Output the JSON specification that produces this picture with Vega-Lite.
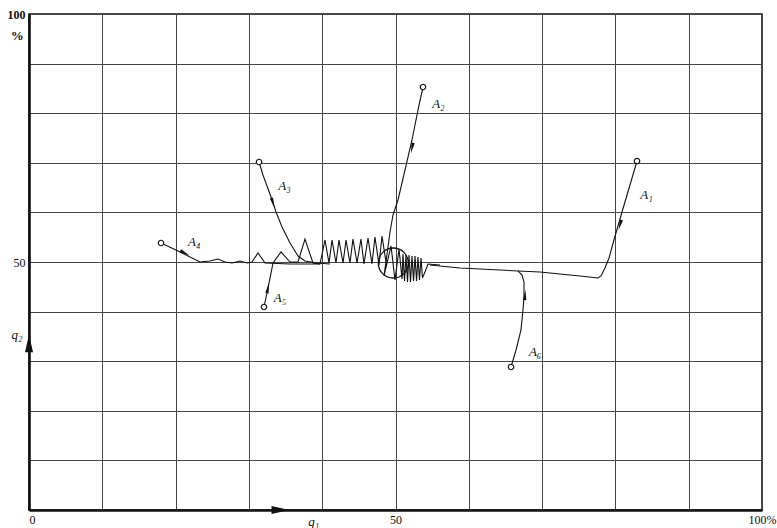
{
  "$schema": "https://vega.github.io/schema/vega-lite/v6.json",
  "width": 733,
  "height": 496,
  "autosize": {"type": "none"},
  "padding": {"left": 29, "top": 14, "right": 15, "bottom": 18},
  "background": "white",
  "config": {
    "view": {"stroke": "#111", "strokeWidth": 1.5},
    "axis": {"labelFont": "Liberation Serif", "labelFontSize": 12, "labelColor": "#111"}
  },
  "datasets": {
    "paths": [
      {"s":"A1","o":0,"x":82.95,"y":70.36},{"s":"A1","o":1,"x":81.99,"y":65.52},{"s":"A1","o":2,"x":80.9,"y":60.08},{"s":"A1","o":3,"x":79.8,"y":54.44},{"s":"A1","o":4,"x":79.13,"y":50.81},{"s":"A1","o":5,"x":78.58,"y":48.79},{"s":"A1","o":6,"x":78.04,"y":47.18},{"s":"A1","o":7,"x":77.63,"y":46.77},{"s":"A1","o":8,"x":75.17,"y":47.18},{"s":"A1","o":9,"x":72.44,"y":47.58},{"s":"A1","o":10,"x":69.71,"y":47.98},{"s":"A1","o":11,"x":66.71,"y":48.19},{"s":"A1","o":12,"x":64.26,"y":48.39},{"s":"A1","o":13,"x":61.53,"y":48.59},{"s":"A1","o":14,"x":58.8,"y":48.79},{"s":"A1","o":15,"x":56.07,"y":49.19},{"s":"A1","o":16,"x":54.71,"y":49.4},
      {"s":"A2","o":0,"x":53.75,"y":85.28},{"s":"A2","o":1,"x":53.07,"y":80.65},{"s":"A2","o":2,"x":52.25,"y":74.6},{"s":"A2","o":3,"x":51.3,"y":68.55},{"s":"A2","o":4,"x":50.34,"y":62.5},{"s":"A2","o":5,"x":49.66,"y":59.48},{"s":"A2","o":6,"x":49.25,"y":56.05},{"s":"A2","o":7,"x":48.98,"y":53.02},{"s":"A2","o":8,"x":48.43,"y":47.18},{"s":"A2","o":9,"x":49.39,"y":53.23},{"s":"A2","o":10,"x":49.93,"y":46.37},{"s":"A2","o":11,"x":50.48,"y":52.62},{"s":"A2","o":12,"x":50.89,"y":46.57},{"s":"A2","o":13,"x":51.02,"y":51.61},{"s":"A2","o":14,"x":51.23,"y":46.17},{"s":"A2","o":15,"x":51.43,"y":51.41},{"s":"A2","o":16,"x":51.64,"y":45.97},{"s":"A2","o":17,"x":51.84,"y":51.41},{"s":"A2","o":18,"x":52.05,"y":45.97},{"s":"A2","o":19,"x":52.25,"y":51.21},{"s":"A2","o":20,"x":52.46,"y":46.17},{"s":"A2","o":21,"x":52.66,"y":51.21},{"s":"A2","o":22,"x":52.87,"y":46.17},{"s":"A2","o":23,"x":53.07,"y":51.01},{"s":"A2","o":24,"x":53.27,"y":46.37},{"s":"A2","o":25,"x":53.48,"y":50.81},{"s":"A2","o":26,"x":53.68,"y":46.77},{"s":"A2","o":27,"x":54.02,"y":47.98},{"s":"A2","o":28,"x":54.43,"y":49.6},{"s":"A2","o":29,"x":56.07,"y":49.4},
      {"s":"A3","o":0,"x":31.38,"y":70.16},{"s":"A3","o":1,"x":31.92,"y":67.54},{"s":"A3","o":2,"x":32.47,"y":65.32},{"s":"A3","o":3,"x":33.02,"y":63.1},{"s":"A3","o":4,"x":33.7,"y":60.08},{"s":"A3","o":5,"x":34.52,"y":57.06},{"s":"A3","o":6,"x":35.61,"y":53.83},{"s":"A3","o":7,"x":36.7,"y":51.21},{"s":"A3","o":8,"x":37.65,"y":50.2},{"s":"A3","o":9,"x":39.29,"y":49.8},{"s":"A3","o":10,"x":41.06,"y":49.6},
      {"s":"A4","o":0,"x":18.01,"y":53.83},{"s":"A4","o":1,"x":20.33,"y":52.22},{"s":"A4","o":2,"x":23.33,"y":50.0},{"s":"A4","o":3,"x":24.69,"y":50.2},{"s":"A4","o":4,"x":25.78,"y":50.6},{"s":"A4","o":5,"x":26.74,"y":50.0},{"s":"A4","o":6,"x":27.69,"y":49.8},{"s":"A4","o":7,"x":28.79,"y":50.2},{"s":"A4","o":8,"x":29.74,"y":49.8},{"s":"A4","o":9,"x":30.42,"y":50.0},{"s":"A4","o":10,"x":31.24,"y":51.81},{"s":"A4","o":11,"x":32.2,"y":49.8},{"s":"A4","o":12,"x":35.61,"y":49.6},{"s":"A4","o":13,"x":39.7,"y":49.6},
      {"s":"A5","o":0,"x":32.06,"y":40.93},{"s":"A5","o":1,"x":32.47,"y":43.75},{"s":"A5","o":2,"x":32.88,"y":46.77},{"s":"A5","o":3,"x":33.29,"y":49.8},{"s":"A5","o":4,"x":34.38,"y":52.02},{"s":"A5","o":5,"x":35.61,"y":50.0},{"s":"A5","o":6,"x":36.7,"y":50.0},{"s":"A5","o":7,"x":37.65,"y":54.64},{"s":"A5","o":8,"x":38.74,"y":49.8},{"s":"A5","o":9,"x":39.7,"y":49.6},{"s":"A5","o":10,"x":40.38,"y":54.44},{"s":"A5","o":11,"x":40.93,"y":49.8},{"s":"A5","o":12,"x":41.34,"y":54.44},{"s":"A5","o":13,"x":41.88,"y":49.8},{"s":"A5","o":14,"x":42.29,"y":54.44},{"s":"A5","o":15,"x":42.84,"y":49.8},{"s":"A5","o":16,"x":43.25,"y":54.44},{"s":"A5","o":17,"x":43.79,"y":49.8},{"s":"A5","o":18,"x":44.2,"y":54.64},{"s":"A5","o":19,"x":44.75,"y":49.8},{"s":"A5","o":20,"x":45.29,"y":54.64},{"s":"A5","o":21,"x":45.7,"y":49.6},{"s":"A5","o":22,"x":46.25,"y":54.84},{"s":"A5","o":23,"x":46.79,"y":49.6},{"s":"A5","o":24,"x":47.2,"y":55.04},{"s":"A5","o":25,"x":47.75,"y":49.4},{"s":"A5","o":26,"x":48.16,"y":55.24},{"s":"A5","o":27,"x":48.7,"y":50.0},
      {"s":"A6","o":0,"x":65.76,"y":28.83},{"s":"A6","o":1,"x":66.44,"y":32.26},{"s":"A6","o":2,"x":67.12,"y":36.29},{"s":"A6","o":3,"x":67.39,"y":40.32},{"s":"A6","o":4,"x":67.53,"y":42.94},{"s":"A6","o":5,"x":67.53,"y":45.97},{"s":"A6","o":6,"x":67.26,"y":47.38},{"s":"A6","o":7,"x":66.71,"y":48.19}
    ],
    "starts": [
      {"s":"A1","x":82.95,"y":70.36},{"s":"A2","x":53.75,"y":85.28},{"s":"A3","x":31.38,"y":70.16},{"s":"A4","x":18.01,"y":53.83},{"s":"A5","x":32.06,"y":40.93},{"s":"A6","x":65.76,"y":28.83}
    ],
    "arrows": [
      {"s":"A1","x":80.63,"y":57.46,"a":196},{"s":"A2","x":52.25,"y":72.98,"a":192},{"s":"A3","x":33.29,"y":61.9,"a":162},{"s":"A4","x":21.28,"y":51.81,"a":117},{"s":"A5","x":32.6,"y":44.76,"a":11},{"s":"A6","x":67.67,"y":43.35,"a":4}
    ],
    "axisArrows": [
      {"name":"q1","x":34.3,"y":0,"a":90},{"name":"q2","x":0,"y":33.6,"a":0}
    ],
    "labels": [
      {"t":"A₁","x":83.4,"y":63.5},{"t":"A₂","x":55.0,"y":81.9},{"t":"A₃","x":34.0,"y":65.3},{"t":"A₄","x":21.7,"y":54.0},{"t":"A₅","x":33.4,"y":42.7},{"t":"A₆","x":68.2,"y":31.9},{"t":"q₁","x":38.1,"y":-2.4},{"t":"q₂","x":-2.4,"y":35.2}
    ],
    "marks": [
      {"t":"%","x":-1.6,"y":95.6}
    ],
    "center": [{"x":49.7,"y":49.8}]
  },
  "layer": [
    {
      "data": {"name": "paths"},
      "mark": {"type": "line", "color": "#111", "strokeWidth": 1.1, "clip": false},
      "encoding": {
        "x": {"field": "x", "type": "quantitative", "scale": {"domain": [0, 100], "nice": false, "zero": false},
          "axis": {"title": null, "values": [0,10,20,30,40,50,60,70,80,90,100], "grid": true, "gridColor": "#444", "gridWidth": 1, "gridOpacity": 1, "ticks": false, "domainColor": "#111", "domainWidth": 2.6, "labelPadding": 4,
            "labelAlign": {"condition": {"test": "datum.value == 0", "value": "left"}, "value": "center"},
            "labelExpr": "datum.value == 0 ? '0' : datum.value == 50 ? '50' : datum.value == 100 ? '100%' : ''"}},
        "y": {"field": "y", "type": "quantitative", "scale": {"domain": [0, 100], "nice": false, "zero": false},
          "axis": {"title": null, "values": [0,10,20,30,40,50,60,70,80,90,100], "grid": true, "gridColor": "#444", "gridWidth": 1, "gridOpacity": 1, "ticks": false, "domainColor": "#111", "domainWidth": 2.6, "labelPadding": 4,
            "labelFontWeight": {"condition": {"test": "datum.value == 100", "value": "bold"}, "value": "normal"},
            "labelExpr": "datum.value == 100 ? '100' : datum.value == 50 ? '50' : ''"}},
        "detail": {"field": "s"},
        "order": {"field": "o", "type": "quantitative"}
      }
    },
    {
      "data": {"name": "center"},
      "mark": {"type": "point", "shape": "circle", "size": 900, "filled": false, "stroke": "#111", "strokeWidth": 1.3, "opacity": 1},
      "encoding": {"x": {"field": "x", "type": "quantitative"}, "y": {"field": "y", "type": "quantitative"}}
    },
    {
      "data": {"name": "starts"},
      "mark": {"type": "point", "shape": "circle", "size": 30, "filled": true, "fill": "white", "stroke": "#111", "strokeWidth": 1.2, "opacity": 1},
      "encoding": {"x": {"field": "x", "type": "quantitative"}, "y": {"field": "y", "type": "quantitative"}}
    },
    {
      "data": {"name": "arrows"},
      "mark": {"type": "point", "shape": "M0,-1L0.32,1L-0.32,1Z", "size": 110, "filled": true, "color": "#111", "opacity": 1},
      "encoding": {"x": {"field": "x", "type": "quantitative"}, "y": {"field": "y", "type": "quantitative"},
        "angle": {"field": "a", "type": "quantitative", "scale": null}}
    },
    {
      "data": {"name": "axisArrows"},
      "mark": {"type": "point", "shape": "M0,-1L0.45,1L-0.45,1Z", "size": 320, "filled": true, "color": "#111", "opacity": 1, "clip": false},
      "encoding": {"x": {"field": "x", "type": "quantitative"}, "y": {"field": "y", "type": "quantitative"},
        "angle": {"field": "a", "type": "quantitative", "scale": null}}
    },
    {
      "data": {"name": "labels"},
      "mark": {"type": "text", "font": "Liberation Serif", "fontStyle": "italic", "fontSize": 13, "color": "#111", "align": "left", "baseline": "middle", "clip": false},
      "encoding": {"x": {"field": "x", "type": "quantitative"}, "y": {"field": "y", "type": "quantitative"}, "text": {"field": "t"}}
    },
    {
      "data": {"name": "marks"},
      "mark": {"type": "text", "font": "Liberation Serif", "fontSize": 13, "fontWeight": "bold", "color": "#111", "align": "center", "baseline": "middle", "clip": false},
      "encoding": {"x": {"field": "x", "type": "quantitative"}, "y": {"field": "y", "type": "quantitative"}, "text": {"field": "t"}}
    }
  ]
}
